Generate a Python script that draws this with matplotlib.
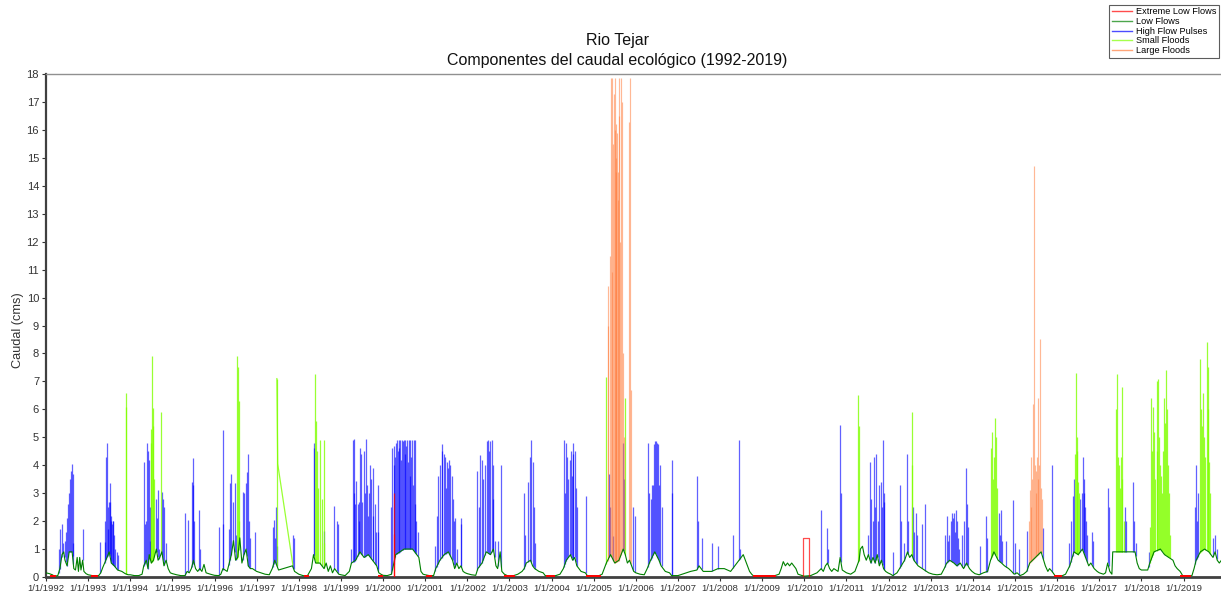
import numpy as np
import matplotlib
matplotlib.use("Agg")
import matplotlib.pyplot as plt
from matplotlib.lines import Line2D

plt.rcParams['font.family'] = ['Liberation Sans', 'DejaVu Sans']

# ---------------- data (decimal year, caudal in cms) ----------------
low_flow_line = [
    (1992.00,0.15),(1992.08,0.12),(1992.15,0.08),(1992.20,0.03),(1992.28,0.05),(1992.33,0.3),(1992.38,0.8),
    (1992.42,0.9),(1992.45,0.6),(1992.50,0.4),(1992.55,0.9),(1992.62,0.9),(1992.66,0.3),(1992.70,0.25),
    (1992.74,0.7),(1992.77,0.2),(1992.80,0.7),(1992.83,0.25),(1992.87,0.6),(1992.90,0.2),(1992.95,0.12),
    (1993.00,0.08),(1993.10,0.05),(1993.25,0.05),(1993.30,0.15),(1993.35,0.35),(1993.42,0.6),(1993.50,0.9),
    (1993.55,0.5),(1993.62,0.4),(1993.70,0.25),(1993.80,0.2),(1993.88,0.12),(1993.95,0.08),
    (1994.00,0.08),(1994.10,0.05),(1994.20,0.05),(1994.28,0.1),(1994.32,0.4),(1994.38,0.6),(1994.42,0.3),
    (1994.45,0.8),(1994.50,0.5),(1994.55,0.6),(1994.62,1.0),(1994.66,0.6),(1994.70,0.7),(1994.75,0.9),
    (1994.80,0.4),(1994.85,0.6),(1994.90,0.3),(1994.95,0.15),
    (1995.00,0.12),(1995.10,0.08),(1995.20,0.05),(1995.30,0.05),(1995.35,0.2),(1995.40,0.15),(1995.45,0.3),
    (1995.50,0.6),(1995.55,0.3),(1995.60,0.2),(1995.65,0.3),(1995.70,0.2),(1995.75,0.45),(1995.80,0.15),
    (1995.90,0.1),(1995.95,0.08),
    (1996.00,0.06),(1996.10,0.05),(1996.15,0.1),(1996.20,0.3),(1996.30,0.2),(1996.35,0.5),(1996.40,0.8),
    (1996.45,1.3),(1996.50,0.6),(1996.55,0.7),(1996.60,1.4),(1996.65,0.5),(1996.70,0.8),(1996.75,1.0),
    (1996.80,0.4),(1996.85,0.3),(1996.90,0.3),(1996.95,0.25),
    (1997.00,0.2),(1997.10,0.15),(1997.20,0.1),(1997.30,0.08),(1997.37,0.3),(1997.43,0.6),(1997.48,0.4),
    (1997.52,0.25),(1997.85,0.4),(1997.90,0.2),(1997.95,0.15),
    (1998.00,0.1),(1998.10,0.05),(1998.20,0.03),(1998.30,0.3),(1998.35,0.8),(1998.40,0.5),(1998.50,0.5),
    (1998.55,0.4),(1998.60,0.3),(1998.65,0.5),(1998.70,0.2),(1998.75,0.4),(1998.80,0.15),(1998.85,0.3),
    (1998.90,0.2),(1998.95,0.1),
    (1999.00,0.08),(1999.10,0.05),(1999.20,0.2),(1999.25,0.5),(1999.35,0.6),(1999.45,0.9),(1999.55,0.7),
    (1999.65,0.8),(1999.75,0.6),(1999.85,0.4),(1999.90,0.15),(1999.95,0.1),
    (2000.00,0.06),(2000.10,0.05),(2000.20,0.1),(2000.30,0.8),(2000.50,1.0),(2000.70,1.0),(2000.85,0.7),
    (2000.90,0.2),(2000.95,0.1),
    (2001.00,0.08),(2001.10,0.05),(2001.20,0.05),(2001.25,0.3),(2001.35,0.6),(2001.45,0.8),(2001.55,0.9),
    (2001.65,0.6),(2001.70,0.3),(2001.75,0.5),(2001.80,0.3),(2001.85,0.4),(2001.90,0.2),(2001.95,0.15),
    (2002.00,0.12),(2002.10,0.08),(2002.20,0.06),(2002.25,0.3),(2002.35,0.5),(2002.45,0.9),(2002.55,0.8),
    (2002.62,1.0),(2002.68,0.4),(2002.72,0.3),(2002.78,0.9),(2002.82,0.2),(2002.88,0.1),(2002.95,0.05),
    (2003.00,0.03),(2003.10,0.05),(2003.20,0.1),(2003.30,0.2),(2003.35,0.3),(2003.40,0.5),(2003.50,0.6),
    (2003.55,0.4),(2003.60,0.3),(2003.70,0.2),(2003.80,0.15),(2003.85,0.05),
    (2004.00,0.03),(2004.10,0.05),(2004.20,0.1),(2004.28,0.3),(2004.35,0.6),(2004.45,0.8),(2004.50,0.6),
    (2004.55,0.7),(2004.60,0.4),(2004.70,0.2),(2004.80,0.15),(2004.85,0.05),
    (2005.00,0.03),(2005.10,0.03),(2005.20,0.1),(2005.30,0.5),(2005.40,0.8),(2005.50,0.5),(2005.60,0.6),
    (2005.70,1.0),(2005.75,0.8),(2005.80,0.5),(2005.85,0.6),(2005.90,0.4),(2005.95,0.2),
    (2006.00,0.15),(2006.10,0.1),(2006.20,0.08),(2006.27,0.3),(2006.35,0.6),(2006.45,0.9),(2006.55,0.6),
    (2006.60,0.4),(2006.70,0.2),(2006.80,0.15),(2006.85,0.05),(2006.95,0.05),
    (2007.00,0.05),(2007.10,0.1),(2007.30,0.2),(2007.45,0.25),(2007.50,0.4),(2007.60,0.2),(2007.80,0.2),
    (2007.95,0.3),(2008.10,0.3),(2008.25,0.2),(2008.30,0.3),(2008.40,0.5),(2008.45,0.6),(2008.50,0.7),
    (2008.55,0.8),(2008.60,0.6),(2008.65,0.4),(2008.70,0.2),(2008.75,0.1),(2008.80,0.03),
    (2009.00,0.02),(2009.30,0.05),(2009.40,0.1),(2009.45,0.3),(2009.50,0.55),(2009.55,0.4),(2009.60,0.5),
    (2009.65,0.4),(2009.70,0.5),(2009.80,0.3),(2009.85,0.1),(2009.95,0.05),
    (2010.00,0.03),(2010.15,0.05),(2010.30,0.15),(2010.40,0.3),(2010.45,0.2),(2010.50,0.4),(2010.55,0.5),
    (2010.60,0.3),(2010.65,0.2),(2010.70,0.3),(2010.80,0.2),(2010.85,0.7),(2010.90,0.25),(2010.95,0.2),
    (2011.00,0.15),(2011.10,0.1),(2011.20,0.2),(2011.30,0.6),(2011.33,1.0),(2011.38,1.1),(2011.42,0.8),
    (2011.47,0.6),(2011.52,0.8),(2011.58,0.5),(2011.63,0.7),(2011.68,0.5),(2011.73,0.8),(2011.78,0.4),
    (2011.83,0.6),(2011.88,0.3),(2011.93,0.2),(2011.98,0.15),
    (2012.05,0.1),(2012.10,0.05),(2012.20,0.15),(2012.30,0.4),(2012.38,0.6),(2012.45,0.9),(2012.50,0.7),
    (2012.55,0.8),(2012.60,0.6),(2012.70,0.4),(2012.80,0.3),(2012.90,0.2),(2012.95,0.15),
    (2013.05,0.1),(2013.15,0.08),(2013.25,0.1),(2013.32,0.3),(2013.38,0.5),(2013.45,0.6),(2013.55,0.5),
    (2013.62,0.4),(2013.70,0.5),(2013.78,0.3),(2013.85,0.5),(2013.92,0.3),(2013.98,0.2),
    (2014.05,0.12),(2014.15,0.08),(2014.25,0.15),(2014.35,0.2),(2014.42,0.6),(2014.50,0.9),(2014.60,0.6),
    (2014.68,0.5),(2014.75,0.4),(2014.85,0.3),(2014.92,0.2),(2014.98,0.1),
    (2015.05,0.15),(2015.12,0.05),(2015.20,0.1),(2015.28,0.2),(2015.35,0.5),(2015.62,0.9),(2015.68,0.6),
    (2015.72,0.4),(2015.78,0.2),(2015.82,0.3),(2015.88,0.2),(2015.95,0.05),
    (2016.10,0.03),(2016.20,0.1),(2016.30,0.4),(2016.40,0.9),(2016.50,0.8),(2016.60,1.0),(2016.70,0.6),
    (2016.75,0.4),(2016.80,0.5),(2016.88,0.3),(2016.95,0.2),
    (2017.00,0.15),(2017.10,0.1),(2017.15,0.15),(2017.20,0.5),(2017.25,0.2),(2017.30,0.1),(2017.32,0.9),
    (2017.85,0.9),(2017.90,0.5),(2017.95,0.3),
    (2018.00,0.25),(2018.15,0.25),(2018.20,0.5),(2018.30,0.9),(2018.45,1.0),(2018.55,0.8),(2018.65,0.7),
    (2018.75,0.6),(2018.80,0.4),(2018.85,0.3),(2018.92,0.2),(2018.98,0.05),
    (2019.10,0.03),(2019.20,0.05),(2019.25,0.3),(2019.30,0.6),(2019.40,0.9),(2019.50,1.0),(2019.60,0.9),
    (2019.70,0.7),(2019.75,0.9),(2019.80,0.6),(2019.85,0.5),(2019.90,0.6),
]

pulse_peaks = [
    (1992.30,1.0),(1992.33,1.7),(1992.37,1.9),(1992.40,1.2),(1992.44,1.3),(1992.47,1.6),(1992.50,2.1),
    (1992.53,2.6),(1992.55,3.0),(1992.57,3.5),(1992.59,3.8),(1992.61,4.05),(1992.63,3.7),(1992.65,1.2),
    (1992.87,1.7),
    (1993.29,1.25),(1993.39,1.25),(1993.41,2.0),(1993.43,4.3),(1993.45,4.8),(1993.46,2.5),(1993.48,1.7),
    (1993.49,2.7),(1993.51,3.35),(1993.52,2.7),(1993.54,2.2),(1993.55,2.0),(1993.57,1.9),(1993.59,2.0),
    (1993.60,2.0),(1993.62,1.5),(1993.64,1.0),(1993.68,0.9),(1993.70,0.8),
    (1994.32,4.1),(1994.34,1.9),(1994.37,2.0),(1994.40,4.8),(1994.42,4.5),(1994.44,4.2),(1994.46,2.5),
    (1994.48,1.3),(1994.60,2.8),(1994.63,2.1),(1994.65,3.1),(1994.68,1.0),(1994.76,3.05),(1994.78,2.8),
    (1994.81,2.5),(1994.84,1.2),
    (1995.31,2.3),(1995.37,2.05),(1995.46,3.4),(1995.48,4.25),(1995.50,3.3),(1995.52,2.0),(1995.63,2.4),
    (1995.65,1.0),
    (1996.11,1.8),(1996.19,5.25),(1996.21,1.9),(1996.34,1.7),(1996.37,3.35),(1996.40,3.7),(1996.44,2.7),
    (1996.48,3.35),(1996.50,1.5),(1996.67,3.05),(1996.71,3.0),(1996.75,3.35),(1996.77,3.75),(1996.80,4.4),
    (1996.82,2.0),(1996.84,1.4),(1996.96,1.6),
    (1997.38,1.8),(1997.40,2.05),(1997.44,1.4),(1997.46,2.5),(1997.48,1.1),(1997.87,1.5),(1997.88,1.4),
    (1998.35,4.8),(1998.36,4.6),(1998.61,1.65),(1998.84,2.55),(1998.90,2.0),(1998.92,1.9),
    (1999.25,1.0),(1999.28,4.9),(1999.30,3.0),(1999.32,4.95),(1999.34,2.6),(1999.37,3.45),(1999.40,2.6),
    (1999.43,2.7),(1999.44,2.0),(1999.46,4.6),(1999.48,4.4),(1999.51,2.7),(1999.54,4.5),(1999.56,3.0),
    (1999.60,4.95),(1999.62,3.3),(1999.64,2.2),(1999.67,3.0),(1999.70,4.0),(1999.72,3.5),(1999.75,3.9),
    (1999.77,2.2),(1999.81,2.6),(1999.83,1.6),(1999.87,3.3),(1999.89,1.6),
    (2000.20,2.5),(2000.22,4.6),(2000.25,4.0),(2000.27,4.7),(2000.29,4.3),(2000.31,4.8),(2000.33,4.9),
    (2000.35,4.5),(2000.37,4.9),(2000.39,4.6),(2000.41,4.9),(2000.43,4.2),(2000.45,4.9),(2000.47,4.85),
    (2000.49,4.9),(2000.51,4.4),(2000.53,4.9),(2000.55,4.7),(2000.57,4.9),(2000.59,4.1),(2000.61,4.9),
    (2000.63,3.6),(2000.65,4.9),(2000.67,4.3),(2000.69,4.9),(2000.71,3.3),(2000.73,4.9),(2000.75,2.6),
    (2000.77,4.9),(2000.79,2.0),(2000.82,1.6),
    (2001.23,1.1),(2001.27,2.2),(2001.31,3.6),(2001.35,4.0),(2001.39,4.5),(2001.41,4.75),(2001.44,4.4),
    (2001.47,4.3),(2001.49,3.2),(2001.52,4.1),(2001.55,3.9),(2001.57,4.2),(2001.60,4.0),(2001.63,3.6),
    (2001.65,2.8),(2001.68,2.0),(2001.71,2.1),(2001.75,1.0),(2001.84,2.1),(2001.86,1.9),
    (2002.24,3.8),(2002.28,2.5),(2002.31,4.35),(2002.35,4.2),(2002.38,3.5),(2002.42,4.0),(2002.46,4.85),
    (2002.49,4.9),(2002.52,4.5),(2002.54,4.85),(2002.58,4.9),(2002.60,4.0),(2002.62,2.8),(2002.65,1.3),
    (2002.73,1.3),(2002.81,4.0),
    (2003.34,3.0),(2003.37,1.5),(2003.45,3.4),(2003.49,4.3),(2003.52,4.9),(2003.55,4.1),(2003.58,2.5),
    (2003.60,1.2),
    (2004.29,4.9),(2004.32,3.0),(2004.34,4.8),(2004.37,4.3),(2004.40,3.5),(2004.43,4.2),(2004.45,4.5),
    (2004.48,3.6),(2004.50,4.8),(2004.52,4.4),(2004.55,4.5),(2004.58,3.2),(2004.60,2.5),(2004.81,2.9),
    (2005.37,3.7),(2005.39,2.5),(2005.46,1.45),(2005.70,4.8),(2005.72,3.5),(2005.94,2.5),(2005.98,2.2),
    (2006.29,4.8),(2006.32,3.0),(2006.35,2.8),(2006.38,3.3),(2006.41,3.3),(2006.44,4.75),(2006.46,4.85),
    (2006.48,4.85),(2006.51,4.8),(2006.53,4.75),(2006.56,3.3),(2006.58,4.0),(2006.61,2.5),(2006.85,4.2),
    (2006.86,3.0),
    (2007.46,3.6),(2007.48,2.0),(2007.56,1.4),(2007.80,1.2),(2007.96,1.1),(2008.31,1.5),(2008.45,4.9),
    (2008.47,1.0),
    (2010.39,2.4),(2010.53,1.75),(2010.55,1.0),(2010.85,5.45),(2010.87,3.0),
    (2011.52,1.5),(2011.56,4.1),(2011.58,2.8),(2011.64,2.0),(2011.66,4.3),(2011.68,2.5),(2011.70,4.4),
    (2011.74,2.0),(2011.77,3.3),(2011.81,3.4),(2011.84,2.5),(2011.86,4.9),(2011.88,2.7),(2011.90,3.0),
    (2012.10,0.9),
    (2012.27,3.3),(2012.30,2.0),(2012.37,1.2),(2012.43,4.4),(2012.46,2.0),(2012.59,2.5),(2012.61,1.6),
    (2012.65,2.3),(2012.67,1.5),(2012.79,1.9),(2012.87,2.6),
    (2013.34,1.5),(2013.38,2.2),(2013.41,1.3),(2013.44,1.5),(2013.48,2.0),(2013.50,2.3),(2013.52,2.1),
    (2013.55,2.3),(2013.58,1.6),(2013.59,2.4),(2013.62,2.0),(2013.64,1.4),(2013.68,1.0),(2013.75,1.5),
    (2013.80,2.0),(2013.83,3.9),(2013.86,2.6),(2013.88,1.8),
    (2014.17,1.1),(2014.31,2.2),(2014.33,1.4),(2014.62,2.3),(2014.65,1.5),(2014.66,2.4),(2014.69,1.3),
    (2014.79,1.3),(2014.95,2.75),(2015.00,1.2),
    (2015.10,1.0),(2015.28,1.65),(2015.67,1.75),(2015.89,4.0),
    (2016.29,1.2),(2016.33,2.0),(2016.37,2.9),(2016.40,3.5),(2016.55,2.8),(2016.59,3.0),(2016.61,4.3),
    (2016.63,3.5),(2016.64,3.0),(2016.67,2.5),(2016.69,2.0),(2016.72,1.5),(2016.82,1.6),(2016.86,1.3),
    (2017.20,3.2),(2017.22,2.5),(2017.61,2.5),(2017.64,2.0),(2017.81,3.4),(2017.83,2.0),(2017.87,1.2),
    (2018.17,0.9),
    (2019.28,2.5),(2019.30,4.0),(2019.32,2.0),(2019.34,3.0),(2019.71,1.4),(2019.75,1.5),(2019.79,1.0),
]

small_flood_peaks = [
    (1993.90,6.6),(1993.91,6.1),
    (1994.49,4.8),(1994.50,5.3),(1994.52,7.9),(1994.53,6.05),(1994.55,5.4),(1994.57,3.5),(1994.74,5.9),
    (1996.53,7.9),(1996.55,7.5),(1996.57,6.3),(1996.59,2.0),
    (1997.48,7.1),
    (1998.38,7.25),(1998.40,5.6),(1998.43,4.5),(1998.46,3.2),(1998.51,4.9),(1998.55,2.8),(1998.59,4.9),
    (1998.61,1.2),
    (2005.29,7.15),(2005.75,6.4),
    (2011.28,6.5),(2011.29,5.4),
    (2012.55,5.9),(2012.56,4.0),
    (2014.43,4.6),(2014.45,5.2),(2014.47,3.5),(2014.50,4.3),(2014.53,5.7),(2014.54,5.0),(2014.57,3.2),
    (2016.43,4.4),(2016.45,7.3),(2016.47,5.0),(2016.48,4.5),(2016.50,3.4),(2016.53,3.0),
    (2017.40,6.0),(2017.43,7.25),(2017.45,4.3),(2017.47,4.0),(2017.49,3.2),(2017.51,4.3),(2017.53,6.8),
    (2017.55,3.5),(2017.59,2.0),
    (2018.20,1.8),(2018.23,6.4),(2018.25,4.5),(2018.27,6.1),(2018.30,5.2),(2018.33,3.5),(2018.36,4.5),
    (2018.38,7.0),(2018.40,7.1),(2018.42,5.0),(2018.45,4.0),(2018.47,3.6),(2018.49,3.0),(2018.51,4.5),
    (2018.54,6.4),(2018.56,5.5),(2018.58,7.4),(2018.60,6.0),(2018.62,4.0),(2018.65,3.0),(2018.68,1.5),
    (2019.39,7.8),(2019.41,6.0),(2019.44,5.4),(2019.47,6.6),(2019.49,5.0),(2019.52,4.3),(2019.55,8.4),
    (2019.57,7.5),(2019.58,6.0),(2019.61,4.1),(2019.64,3.0),
]

# 1997 small-flood recession drawn as a straight line in the original
small_flood_ramp = [(1997.48,7.1),(1997.50,4.05),(1997.86,0.43)]

large_flood_peaks = [
    (2005.33,10.4),(2005.35,9.0),(2005.38,11.5),(2005.41,17.85),(2005.43,17.85),(2005.44,10.9),
    (2005.47,15.5),(2005.49,17.3),(2005.50,16.0),(2005.51,17.85),(2005.52,14.5),(2005.53,16.2),
    (2005.54,15.0),(2005.55,15.9),(2005.57,14.5),(2005.58,13.5),(2005.59,16.5),(2005.61,17.85),
    (2005.63,12.0),(2005.65,17.85),(2005.67,17.0),(2005.69,8.0),
    (2005.71,5.0),(2005.84,16.3),(2005.86,17.85),(2005.88,6.7),
    (2015.33,2.0),(2015.35,3.1),(2015.37,2.5),(2015.39,4.3),(2015.41,3.5),(2015.43,6.2),(2015.45,14.7),
    (2015.47,4.0),(2015.49,3.0),(2015.51,3.8),(2015.52,4.3),(2015.54,3.5),(2015.55,6.4),(2015.57,4.0),
    (2015.59,8.5),(2015.61,3.2),(2015.63,2.8),
]

extreme_low_spans = [
    (1992.12,1992.22),(1993.10,1993.22),(1998.15,1998.22),(1999.90,1999.98),(2001.05,2001.15),
    (2002.90,2003.10),(2003.88,2004.05),(2004.85,2005.15),(2008.80,2009.30),(2015.95,2016.10),
    (2018.95,2019.15),
]
extreme_low_peaks = [(2000.25,3.0),(2000.26,1.55)]
extreme_low_box = [(2009.98,0.0),(2009.98,1.38),(2010.10,1.38),(2010.10,0.0)]

year_ticks = list(range(1992, 2020))
year_labels = [f"1/1/{y}" for y in year_ticks]
legend_labels = ["Extreme Low Flows", "Low Flows", "High Flow Pulses", "Small Floods", "Large Floods"]

C_EXT = "#ff0000"
C_LOW = "#008000"
C_HFP = "#0000ff"
C_SF = "#80ff00"
C_LF = "#ff7f3f"

# ---------------- figure ----------------
W, H = 1221, 597
fig = plt.figure(figsize=(W / 100, H / 100), dpi=100)
ax = fig.add_axes([46 / W, 20 / H, (W - 46) / W, (577 - 74) / H])

bx = np.array([p[0] for p in low_flow_line])
by = np.array([p[1] for p in low_flow_line])


def draw_peaks(peaks, color, lw=0.9, alpha=0.75, z=2):
    xs = np.array([p[0] for p in peaks])
    ys = np.array([p[1] for p in peaks])
    ax.vlines(xs, np.interp(xs, bx, by), ys, colors=color, lw=lw, alpha=alpha, zorder=z)


draw_peaks(pulse_peaks, C_HFP, alpha=0.62)
draw_peaks(small_flood_peaks, C_SF, alpha=0.8)
ax.plot([p[0] for p in small_flood_ramp], [p[1] for p in small_flood_ramp], color=C_SF, lw=0.9, alpha=0.8, zorder=2)
draw_peaks(large_flood_peaks, C_LF, lw=0.85, alpha=0.55)

ax.plot(bx, by, color=C_LOW, lw=0.8, zorder=3)

for s, e in extreme_low_spans:
    ax.plot([s, e], [0.04, 0.04], color=C_EXT, lw=1.4, zorder=4)
ax.vlines([p[0] for p in extreme_low_peaks], 0, [p[1] for p in extreme_low_peaks], colors=C_EXT, lw=0.9, alpha=0.8, zorder=4)
ax.plot([p[0] for p in extreme_low_box], [p[1] for p in extreme_low_box], color=C_EXT, lw=0.9, alpha=0.7, zorder=4)

ax.set_xlim(1992.0, 1992 + (W - 46) / 42.13)
ax.set_ylim(0, 18)
ax.set_yticks(range(0, 19))
ax.set_xticks(year_ticks)
ax.set_xticklabels(year_labels)
ax.tick_params(axis='y', labelsize=8, length=3, width=0.8, colors='#333333', pad=2)
ax.tick_params(axis='x', labelsize=6.8, length=3, width=0.8, colors='#333333', pad=2)

ax.spines['right'].set_visible(False)
ax.spines['top'].set_color('#909090')
ax.spines['top'].set_linewidth(1.0)
ax.spines['left'].set_color('#404040')
ax.spines['left'].set_linewidth(1.6)
ax.spines['bottom'].set_color('#404040')
ax.spines['bottom'].set_linewidth(2.0)

fig.text(0.0145, 1 - 330 / H, "Caudal (cms)", rotation=90, ha='center', va='center', fontsize=9.2, color='#333333')
fig.text(617 / W, 1 - 40 / H, "Rio Tejar", ha='center', va='center', fontsize=11.5, color='#111111')
fig.text(617 / W, 1 - 60 / H, "Componentes del caudal ecológico (1992-2019)", ha='center', va='center',
         fontsize=11.5, color='#111111')

handles = [Line2D([0], [0], color=c, lw=1.0, alpha=0.7) for c in [C_EXT, C_LOW, C_HFP, C_SF, C_LF]]
leg = fig.legend(handles, legend_labels, loc='upper right', bbox_to_anchor=(1219 / W, 1 - 5 / H),
                 fontsize=6.6, frameon=True, fancybox=False, handlelength=2.2, handletextpad=0.5,
                 labelspacing=0.08, borderpad=0.25, borderaxespad=0)
leg.get_frame().set_edgecolor('#333333')
leg.get_frame().set_linewidth(0.8)

fig.savefig("out.png", dpi=100)
